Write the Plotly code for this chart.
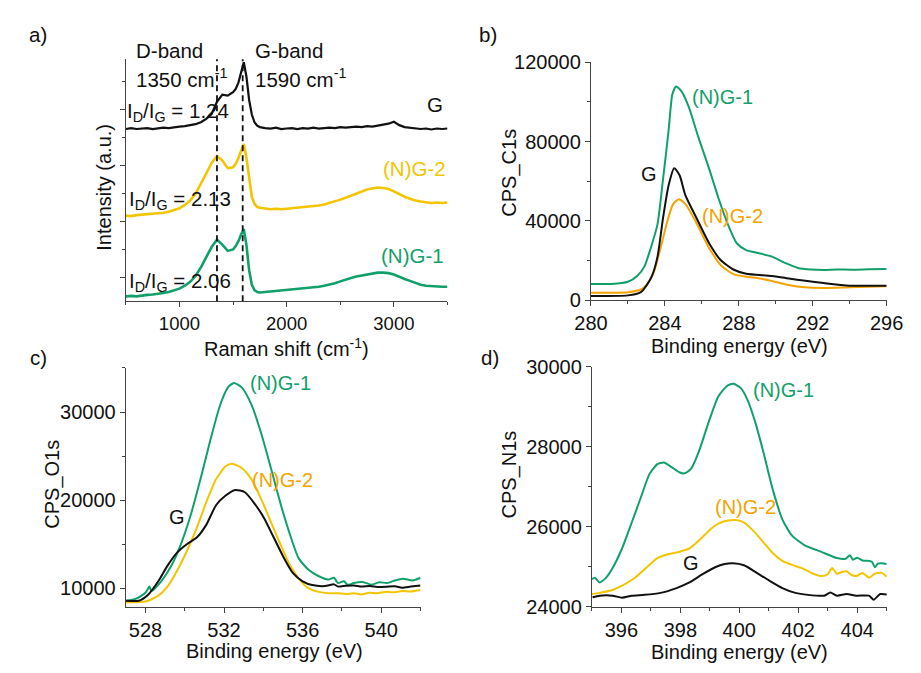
import plotly.graph_objects as go

W, H = 921, 673

# ---------------- Raman spectra (panel a), intensities in arbitrary units ----------------
raman_shift = [500, 550, 600, 650, 700, 750, 800, 850, 900, 950, 1000, 1050, 1100, 1150, 1200,
               1250, 1300, 1350, 1400, 1450, 1500, 1525, 1550, 1575, 1600, 1625, 1650, 1675,
               1700, 1725, 1750, 1800, 1850, 1900, 1950, 2000, 2050, 2100, 2150, 2200, 2250,
               2300, 2350, 2400, 2450, 2500, 2550, 2600, 2650, 2700, 2750, 2800, 2850, 2900,
               2950, 3000, 3050, 3100, 3150, 3200, 3250, 3300, 3350, 3400, 3450, 3500]
raman_G = [178, 179, 178, 178.5, 179, 178, 179, 179.5, 179, 180, 180.5, 181, 182, 183, 185,
           188.5, 193.5, 206, 213.5, 212.5, 216, 219.5, 226, 236, 247, 232, 208, 193,
           185, 181.5, 180, 179, 178.5, 179.5, 178, 178.5, 179, 178, 179, 178.5, 179.5,
           178.5, 179, 179.5, 179, 180, 179.5, 180, 180.5, 180, 181, 180.5, 181.5, 182,
           183.5, 185.5, 182, 180, 179.5, 178.5, 178, 178.5, 177.5, 178.5, 178, 178.5]
raman_NG2 = [88.5, 88, 89, 89.5, 89.5, 90.5, 90.5, 91.5, 92.5, 94, 96, 99.5, 104, 111, 121,
             132, 143, 150, 145.5, 137.5, 138.5, 142, 148, 156, 162.5, 148, 125, 108,
             100.5, 97.5, 96.5, 95.5, 95, 95.5, 95, 95.5, 96, 96.5, 97, 97.5, 98.5,
             99, 100, 101.5, 103, 105, 107, 109, 111.5, 113.5, 115.5, 116.5, 117.5, 117,
             116, 113.5, 110.5, 108, 106, 104, 103, 102.5, 101.5, 102, 101.5, 102]
raman_NG1 = [5, 5.5, 5, 6, 6.5, 7, 7.5, 8.5, 9.5, 11, 13, 16, 20, 26, 35,
             45.5, 56, 63.5, 58.5, 52, 53.5, 57, 62, 69, 74.5, 58, 32, 17,
             11.5, 9.5, 9, 9.5, 10, 10.5, 11, 11.5, 12, 12.5, 13, 13.5, 14,
             15, 16, 17, 18.5, 20.5, 22.5, 24, 25.5, 26.5, 27.5, 28.5, 29.5, 29.5,
             29, 27.5, 25, 23, 21, 19, 17, 16, 15.5, 15, 15, 15]
band_positions = [1350, 1590]
ratio_labels = ["1.24", "2.13", "2.06"]

# ---------------- XPS C1s (panel b) ----------------
c1s_NG1_be = [280.0, 281.1, 282.0, 282.5, 282.9, 283.2, 283.6, 283.9, 284.2, 284.4, 284.6, 284.9,
              285.3, 285.8, 286.4, 286.9, 287.4, 287.9, 288.4, 289.1, 289.8, 290.5, 291.2, 291.9,
              292.6, 293.3, 294.1, 295.0, 296.0]
c1s_NG1_cps = [8200, 8200, 9300, 12200, 17200, 25300, 38400, 61200, 85700, 103700, 107800, 105300,
               97200, 82500, 66100, 51400, 38400, 28600, 25300, 23700, 22000, 18800, 16300, 15500,
               15300, 15500, 15400, 15600, 15800]
c1s_G_be = [280.0, 282.0, 282.7, 283.0, 283.3, 283.6, 283.9, 284.2, 284.5, 284.8, 285.1, 285.7,
            286.4, 287.0, 287.7, 288.4, 289.8, 290.7, 291.6, 292.6, 294.0, 296.0]
c1s_G_cps = [2100, 2450, 4100, 7350, 12250, 22000, 41600, 58000, 66600, 62900, 53100, 41600,
             28600, 20400, 15500, 13400, 12250, 10900, 9800, 8650, 7350, 7350]
c1s_NG2_be = [280.0, 282.0, 282.7, 283.04, 283.39, 283.74, 284.09, 284.43, 284.75, 285.13, 285.65,
              286.35, 287.04, 287.74, 288.43, 289.13, 289.83, 290.7, 291.57, 292.6, 294.0, 296.0]
c1s_NG2_cps = [3750, 4080, 5400, 8170, 13900, 25300, 38400, 48200, 50950, 48200, 40000,
               27000, 17500, 13000, 11800, 11000, 9600, 7700, 6530, 6200, 6530, 7000]

# ---------------- XPS O1s (panel c) ----------------
o1s_NG1_be = [527.0, 527.5, 528.0, 528.2, 528.3, 528.8, 529.3, 529.8, 530.3, 530.8, 531.3, 531.8,
              532.2, 532.5, 532.9, 533.4, 533.9, 534.4, 534.9, 535.4, 535.8, 536.3, 536.8, 537.3,
              537.6, 537.8, 538.1, 538.3, 538.6, 539.1, 539.5, 539.9, 540.3, 540.7, 541.1, 541.6,
              542.0]
o1s_NG1_cps = [8600, 8800, 9500, 10200, 9700, 10800, 12500, 15000, 18300, 22400, 26800, 30800,
               32800, 33300, 32800, 30800, 27500, 23500, 19400, 15800, 13400, 12100, 11400, 11000,
               11200, 10600, 10800, 10400, 10600, 10700, 10400, 10700, 10600, 10900, 11100, 10900,
               11200]
o1s_G_be = [527.0, 527.67, 528.16, 528.65, 529.14, 529.63, 530.12, 530.61, 531.1, 531.59, 532.08,
            532.57, 533.06, 533.55, 534.04, 534.53, 535.02, 535.51, 536.0, 536.49, 537.14, 537.6,
            537.8, 538.2, 538.61, 539.0, 539.43, 539.8, 540.24, 540.7, 541.06, 541.5, 542.0]
o1s_G_cps = [8600, 8600, 9340, 10800, 12640, 14110, 15030, 15760, 17230, 19430, 20530,
             21160, 20900, 19620, 17960, 15760, 13560, 11720, 10800, 10370, 10260, 10450,
             10200, 10300, 10330, 10200, 10260, 10150, 10180, 10250, 10070, 10200, 10330]
o1s_NG2_be = [527.0, 528.0, 528.65, 529.14, 529.63, 530.12, 530.61, 531.1, 531.59, 532.08, 532.41,
              532.9, 533.39, 533.88, 534.37, 534.86, 535.35, 535.84, 536.33, 536.82, 537.31, 537.8,
              538.2, 538.6, 539.0, 539.4, 539.8, 540.2, 540.6, 541.06, 541.5, 542.0]
o1s_NG2_cps = [8420, 8500, 9160, 10260, 12090, 14290, 16860, 19800, 22370, 23840, 24130,
               23650, 22370, 20170, 17600, 15030, 12640, 11000, 9960, 9600, 9450, 9450,
               9350, 9450, 9300, 9500, 9450, 9600, 9550, 9700, 9650, 9820]

# ---------------- XPS N1s (panel d) ----------------
n1s_NG1_be = [395.0, 395.1, 395.26, 395.48, 395.7, 396.02, 396.35, 396.67, 396.95, 397.22, 397.44,
              397.71, 397.98, 398.14, 398.36, 398.63, 398.96, 399.29, 399.61, 399.81, 400.05,
              400.27, 400.54, 400.81, 401.14, 401.46, 401.79, 402.22, 402.77, 403.31, 403.6,
              403.75, 403.86, 404.0, 404.18, 404.4, 404.5, 404.6, 404.7, 404.84, 405.0]
n1s_NG1_cps = [24690, 24730, 24610, 24730, 24970, 25460, 26110, 26760, 27320, 27570, 27610,
               27490, 27360, 27340, 27450, 27890, 28620, 29270, 29540, 29580, 29470,
               29190, 28620, 27890, 26920, 26190, 25780, 25540, 25380, 25220, 25200,
               25290, 25180, 25230, 25160, 25150, 25130, 24990, 25080, 25090, 25070]
n1s_NG2_be = [395.0, 395.26, 395.7, 396.02, 396.46, 396.89, 397.22, 397.55, 397.98, 398.31, 398.63,
              398.96, 399.29, 399.61, 399.88, 400.16, 400.48, 400.81, 401.14, 401.46, 401.79,
              402.12, 402.44, 402.77, 402.99, 403.15, 403.31, 403.5, 403.64, 403.8, 403.97,
              404.18, 404.4, 404.6, 404.84, 405.0]
n1s_NG2_cps = [24320, 24350, 24420, 24530, 24730, 25010, 25220, 25310, 25380, 25460, 25660,
               25900, 26080, 26160, 26170, 26110, 25900, 25620, 25340, 25150, 25050,
               24970, 24850, 24770, 24810, 24970, 24830, 24880, 24890, 24800, 24770,
               24850, 24730, 24830, 24850, 24750]
n1s_G_be = [395.02, 395.26, 395.7, 396.02, 396.35, 396.78, 397.33, 397.87, 398.31, 398.74, 399.18,
            399.5, 399.78, 400.16, 400.59, 401.03, 401.46, 401.9, 402.33, 402.88, 403.09, 403.31,
            403.64, 403.97, 404.4, 404.56, 404.78, 405.03]
n1s_G_cps = [24240, 24280, 24280, 24230, 24280, 24300, 24350, 24470, 24610, 24810, 24990,
             25070, 25090, 25040, 24850, 24650, 24470, 24350, 24300, 24280, 24360, 24280,
             24320, 24280, 24280, 24180, 24320, 24310]

# ---------------- styling ----------------
BLACK = "#111111"
GREEN = "#12A06A"
YELLOW = "#F2C500"
ORANGE = "#F5A300"
AXIS = "#444444"
FONT = "Arial, Liberation Sans, sans-serif"


def fx(px):
    return px / W


def fy(py):
    return 1 - py / H


fig = go.Figure()


def add_line(x, y, color, axis, width=2.0, shape="spline"):
    xa, ya = axis
    line = dict(color=color, width=width, shape=shape)
    if shape == "spline":
        line["smoothing"] = 0.6
    fig.add_trace(go.Scatter(x=x, y=y, mode="lines", line=line, xaxis=xa, yaxis=ya,
                             showlegend=False, hoverinfo="skip"))


# panel a
add_line(raman_shift, raman_G, BLACK, ("x", "y"), 2.2, "linear")
add_line(raman_shift, raman_NG2, YELLOW, ("x", "y"), 2.6, "linear")
add_line(raman_shift, raman_NG1, GREEN, ("x", "y"), 2.6, "linear")
# panel b
add_line(c1s_NG1_be, c1s_NG1_cps, GREEN, ("x2", "y2"))
add_line(c1s_NG2_be, c1s_NG2_cps, ORANGE, ("x2", "y2"))
add_line(c1s_G_be, c1s_G_cps, BLACK, ("x2", "y2"))
# panel c
add_line(o1s_NG1_be, o1s_NG1_cps, GREEN, ("x3", "y3"))
add_line(o1s_NG2_be, o1s_NG2_cps, YELLOW, ("x3", "y3"))
add_line(o1s_G_be, o1s_G_cps, BLACK, ("x3", "y3"))
# panel d
add_line(n1s_NG1_be, n1s_NG1_cps, GREEN, ("x4", "y4"))
add_line(n1s_NG2_be, n1s_NG2_cps, YELLOW, ("x4", "y4"))
add_line(n1s_G_be, n1s_G_cps, BLACK, ("x4", "y4"))

# D- and G-band guide lines
for pos in band_positions:
    fig.add_shape(type="line", xref="x", yref="y domain", x0=pos, x1=pos, y0=0, y1=1,
                  line=dict(color=BLACK, width=1.8, dash="6px,4px"), layer="above")


def axis_style(domain, rng, dtick, minor, labels=True, tick0=None, size=20, anchor=None):
    d = dict(domain=domain, range=rng, dtick=dtick, showline=True, linecolor=AXIS, linewidth=1.3,
             ticks="outside", ticklen=5, tickwidth=1.3, tickcolor=AXIS, showgrid=False,
             zeroline=False, showticklabels=labels, mirror=False, tickformat="d",
             tickfont=dict(family=FONT, size=size, color="#111"),
             minor=dict(ticks="outside", ticklen=3, tickwidth=1.1, tickcolor=AXIS, dtick=minor,
                        showgrid=False))
    if tick0 is not None:
        d["tick0"] = tick0
        d["minor"]["tick0"] = tick0
    if anchor:
        d["anchor"] = anchor
    return d


fig.update_layout(
    width=W, height=H, margin=dict(l=0, r=0, t=0, b=0),
    paper_bgcolor="white", plot_bgcolor="white",
    font=dict(family=FONT, color="#111"),
    xaxis=axis_style([fx(113), fx(447)], [500, 3500], 1000, 500, size=18.5, tick0=0, anchor="y"),
    yaxis=axis_style([fy(300), fy(50)], [0, 250], 57.9, 28.95, labels=False, tick0=24.3, anchor="x"),
    xaxis2=axis_style([fx(596), fx(903)], [280, 296], 4, 2, tick0=280, anchor="y2"),
    yaxis2=axis_style([fy(299), fy(53)], [0, 120000], 40000, 20000, tick0=0, anchor="x2"),
    xaxis3=axis_style([fx(113), fx(419)], [527, 542], 4, 2, tick0=528, anchor="y3"),
    yaxis3=axis_style([fy(616), fy(369)], [7900, 35000], 10000, 5000, tick0=0, anchor="x3"),
    xaxis4=axis_style([fx(597), fx(903)], [395, 405], 2, 1, tick0=396, anchor="y4"),
    yaxis4=axis_style([fy(616), fy(368)], [24000, 30000], 2000, 1000, tick0=24000, anchor="x4"),
)

annotations = []


def note(text, x, y, color=BLACK, size=20.5, xanchor="left", angle=0):
    annotations.append(dict(text=text, x=fx(x), y=fy(y), xref="paper", yref="paper",
                            xanchor=xanchor, yanchor="middle", showarrow=False, textangle=angle,
                            font=dict(family=FONT, size=size, color=color)))


# panel letters
note("a)", 10, 24)
note("b)", 478, 24)
note("c)", 11, 358)
note("d)", 480, 358)

# panel a labels
note("D-band", 121, 41)
note("1350 cm<sup>-1</sup>", 121, 69)
note("G-band", 245, 41)
note("1590 cm<sup>-1</sup>", 245, 69)
note("I<sub>D</sub>/I<sub>G</sub> = " + ratio_labels[0], 112, 104)
note("I<sub>D</sub>/I<sub>G</sub> = " + ratio_labels[1], 114, 195)
note("I<sub>D</sub>/I<sub>G</sub> = " + ratio_labels[2], 114, 280)
note("G", 444, 97, BLACK, xanchor="right")
note("(N)G-2", 448, 163, YELLOW, xanchor="right")
note("(N)G-1", 445, 253, GREEN, xanchor="right")
note("Intensity (a.u.)", 90, 182, angle=-90, xanchor="center", size=20)
note("Raman shift (cm<sup>-1</sup>)", 280, 348, xanchor="center", size=20)

# panel b labels
note("(N)G-1", 699, 89, GREEN, size=20)
note("G", 646, 169, size=20)
note("(N)G-2", 709, 212, ORANGE, size=20)
note("CPS_C1s", 511, 167, angle=-90, xanchor="center", size=20)
note("Binding energy (eV)", 750, 346, xanchor="center", size=20)

# panel c labels
note("(N)G-1", 240, 385, GREEN, size=20)
note("(N)G-2", 242, 485, ORANGE, size=20)
note("G", 156, 523, size=20)
note("CPS_O1s", 36, 489, angle=-90, xanchor="center", size=20)
note("Binding energy (eV)", 267, 662, xanchor="center", size=20)

# panel d labels
note("(N)G-1", 762, 392, GREEN, size=20)
note("(N)G-2", 723, 513, ORANGE, size=20)
note("G", 689, 571, size=20)
note("CPS_N1s", 511, 479, angle=-90, xanchor="center", size=20)
note("Binding energy (eV)", 750, 663, xanchor="center", size=20)

fig.update_layout(annotations=annotations)

fig.write_html("out.html")
